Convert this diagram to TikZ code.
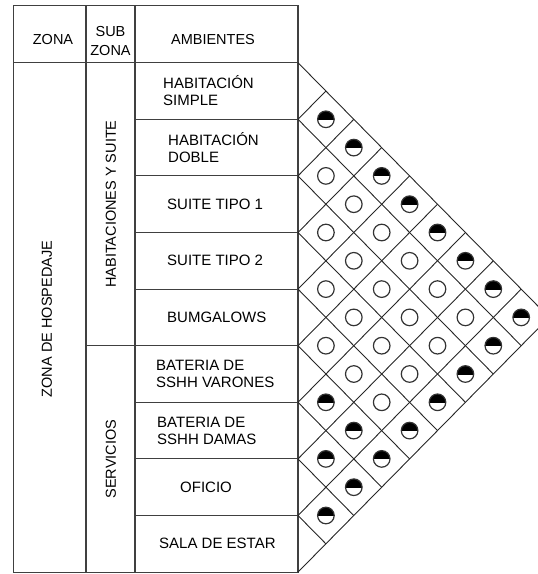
\documentclass[tikz,border=0pt]{standalone}
\usepackage{fontspec}
\setmainfont{Liberation Sans}
\usetikzlibrary{calc}

\begin{document}
\begin{tikzpicture}[x=1pt,y=-1pt,
        frame/.style={draw=black!75, line width=1.1pt},
        grid/.style={draw=black!85, line width=0.9pt},
        head/.style={font=\fontsize{14.5}{19}\selectfont, align=center, inner sep=0pt},
        room/.style={font=\fontsize{15}{17}\selectfont, align=left, anchor=west, inner sep=0pt},
        zone/.style={font=\fontsize{14.5}{16}\selectfont, rotate=90, inner sep=0pt},
        dot/.style={draw=black!80, line width=1.2pt}
    ]
        \useasboundingbox (0,0) rectangle (538,574);
        \clip (0,0) rectangle (538,574);

        \draw[frame] (13.5,5.5) rectangle (298,572.3);
        \draw[frame] (13.5,62.7) -- (298,62.7);
        \draw[frame] (86,5.5) -- (86,572.3);
        \draw[frame] (135,5.5) -- (135,572.3);
        \draw[frame] (86,345.7) -- (135,345.7);
        \foreach \k in {1,...,8}
            \draw[frame] (135,{62.7+\k*56.6}) -- (298,{62.7+\k*56.6});

        \node[head] (hzona) at (53,40) {ZONA};
        \node[head] (hsub) at (110.5,41) {SUB\\ZONA};
        \node[head] (hamb) at (213,40) {AMBIENTES};

        \node[zone] (hospedaje) at (47,319) {ZONA DE HOSPEDAJE};
        \node[zone] (habsuite) at (111,204) {HABITACIONES Y SUITE};
        \node[zone] (servicios) at (111,459) {SERVICIOS};

        \node[room] (r1) at (163,91) {HABITACIÓN\\SIMPLE};
        \node[room] (r2) at (168,147.6) {HABITACIÓN\\DOBLE};
        \node[room] (r3) at (167,204.2) {SUITE TIPO 1};
        \node[room] (r4) at (167,260.8) {SUITE TIPO 2};
        \node[room] (r5) at (167,317.4) {BUMGALOWS};
        \node[room] (r6) at (156,374) {BATERIA DE\\SSHH VARONES};
        \node[room] (r7) at (157,430.6) {BATERIA DE\\SSHH DAMAS};
        \node[room] (r8) at (180,487.2) {OFICIO};
        \node[room] (r9) at (159,543.8) {SALA DE ESTAR};

        \foreach \k in {0,...,9} {
            \coordinate (b\k) at (298,{62.7+\k*56.6});
            \coordinate (d\k) at ({298+(9-\k)*27.9},{62.7+(\k+9)*28.3});
            \coordinate (u\k) at ({298+\k*27.9},{62.7+\k*28.3});
            \draw[grid] (b\k) -- (d\k);
            \draw[grid] (b\k) -- (u\k);
        }

        \foreach \i/\j in {2/3,3/4,4/5,5/6,2/4,3/5,4/6,5/7,2/5,3/6,4/7,5/8,2/6,3/7,4/8,2/7,3/8,2/8} {
            \coordinate (c\i\j) at ({298+(\j-\i)*27.9},{62.7+(\i+\j-1)*28.3});
            \draw[dot] (c\i\j) circle (8.3pt);
        }

        \foreach \i/\j in {1/2,1/3,1/4,1/5,1/6,1/7,1/8,1/9,2/9,3/9,4/9,5/9,6/9,6/7,7/8,8/9,6/8,7/9} {
            \coordinate (c\i\j) at ({298+(\j-\i)*27.9},{62.7+(\i+\j-1)*28.3});
            \begin{scope}
                \clip ($(c\i\j)+(-10,-10)$) rectangle ($(c\i\j)+(10,0)$);
                \fill[black] (c\i\j) circle (8.3pt);
            \end{scope}
            \draw[dot] (c\i\j) circle (8.3pt);
        }
    \end{tikzpicture}
\end{document}
